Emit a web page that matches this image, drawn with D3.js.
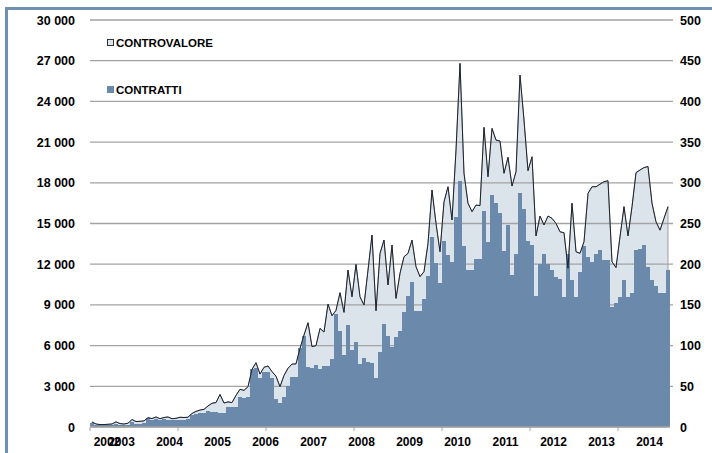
<!DOCTYPE html>
<html>
<head>
<meta charset="utf-8">
<script src="https://cdn.jsdelivr.net/npm/d3@7"></script>
<style>
  body { margin: 0; background: #fff; }
  svg { display: block; font-family: "Liberation Sans", Arial, sans-serif; font-weight: bold; }
</style>
</head>
<body>
<div id="chart"></div>
<script>
const width = 712;
const height = 453;
const margin = { top: 20, right: 42, bottom: 26, left: 90 };

// monthly series, May 2002 - May 2014
const startMonth = new Date(2002, 4, 1);

// CONTROVALORE (left axis)
const controvalore = [
  370, 220, 180, 180, 200, 220, 380, 250, 220, 280,
  550, 400, 420, 450, 690, 620, 740, 610, 700, 740,
  610, 640, 720, 700, 720, 1000, 1150, 1250, 1300, 1550,
  1750, 1800, 2400, 1770, 1850, 1800, 2330, 2780, 2700, 2970,
  4250, 4740, 3900, 4400, 4500, 4080, 3750, 2970, 3800, 4330,
  4640, 4650, 5800, 6780, 7690, 5920, 6000, 7270, 7000, 9060,
  8200, 8600, 9900, 8450, 11570, 9600, 11990, 9600, 8990, 11570,
  14150, 8570, 12800, 13780, 10470, 13410, 9480, 11330, 12550, 12800,
  13780, 11820, 11080, 11450, 13540, 17470, 15010, 12920, 16600, 17710,
  15260, 20410, 26800, 18700, 16490, 15870, 16360, 16320, 22090, 18450,
  22010, 21150, 21080, 18700, 19880, 17760, 18820, 25940, 22630, 18890,
  19920, 14080, 15550, 14890, 15550, 15380, 15010, 14390, 14320, 11700,
  16490, 12920, 12800, 13660, 17220, 17710, 17710, 17900, 18080, 18150,
  12180, 11750, 14030, 16240, 14080, 16240, 18750, 18940, 19120, 19200,
  16490, 15130, 14510, 15380, 16240
];

// CONTRATTI (right axis)
const contratti = [
  5, 3, 3, 3, 3, 3, 4, 3, 3, 3,
  6, 4, 4, 5, 11, 9, 10, 8, 10, 9,
  8, 8, 8, 9, 10, 15, 16, 17, 17, 20,
  19, 19, 17, 17, 24, 25, 24, 37, 36, 37,
  71, 73, 60, 68, 67, 60, 35, 29, 37, 50,
  61, 61, 97, 112, 74, 72, 76, 71, 75, 75,
  83, 139, 118, 88, 125, 94, 104, 77, 85, 80,
  79, 60, 92, 126, 112, 98, 110, 118, 141, 161,
  178, 142, 143, 157, 185, 234, 202, 177, 228, 211,
  203, 258, 302, 222, 193, 193, 207, 207, 265, 227,
  285, 275, 263, 216, 248, 187, 212, 287, 268, 229,
  223, 161, 200, 213, 200, 193, 184, 182, 160, 213,
  181, 160, 191, 222, 209, 203, 213, 218, 205, 205,
  148, 152, 160, 180, 160, 165, 217, 219, 224, 197,
  181, 173, 165, 165, 193
];

const leftTicks = [0, 3000, 6000, 9000, 12000, 15000, 18000, 21000, 24000, 27000, 30000];
const rightTicks = [0, 50, 100, 150, 200, 250, 300, 350, 400, 450, 500];
const yearLabels = ["2002", "2003", "2004", "2005", "2006", "2007", "2008", "2009", "2010", "2011", "2012", "2013", "2014"];
const legendNames = ["CONTROVALORE", "CONTRATTI"];

const barColor = "#6b89ab";
const areaColor = "#dbe3eb";
const gridColor = "#a3a3a3";

const data = controvalore.map((v, i) => ({
  i,
  date: d3.timeMonth.offset(startMonth, i),
  cv: v,
  ct: contratti[i]
}));

const svg = d3.select("#chart").append("svg")
  .attr("width", width)
  .attr("height", height);

svg.append("rect").attr("width", width).attr("height", height).attr("fill", "#fff");

// frame (runs past the right/bottom edge like the cropped original)
svg.append("rect")
  .attr("x", 6.5).attr("y", 8.5)
  .attr("width", width + 20).attr("height", height + 20)
  .attr("fill", "none")
  .attr("stroke", "#7090b3")
  .attr("stroke-width", 3);

const x = d3.scaleBand()
  .domain(data.map(d => d.i))
  .range([margin.left, width - margin.right])
  .padding(0);

const yL = d3.scaleLinear().domain([0, 30000]).range([height - margin.bottom, margin.top]);
const yR = d3.scaleLinear().domain([0, 500]).range([height - margin.bottom, margin.top]);

// controvalore area
const area = d3.area()
  .x(d => x(d.i) + x.bandwidth() / 2)
  .y0(yL(0))
  .y1(d => yL(d.cv));

svg.append("path")
  .datum(data)
  .attr("d", area)
  .attr("fill", areaColor)
  .attr("stroke", "#8a8a8a")
  .attr("stroke-width", 0.8);

// gridlines
svg.append("g")
  .selectAll("line")
  .data(leftTicks.slice(1))
  .join("line")
  .attr("x1", margin.left)
  .attr("x2", width - margin.right + 3)
  .attr("y1", d => yL(d))
  .attr("y2", d => yL(d))
  .attr("stroke", gridColor)
  .attr("stroke-width", 1.3);

// contratti bars
svg.append("g")
  .attr("shape-rendering", "crispEdges")
  .selectAll("rect")
  .data(data)
  .join("rect")
  .attr("x", d => x(d.i))
  .attr("width", x.bandwidth() + 0.3)
  .attr("y", d => yR(d.ct))
  .attr("height", d => yR(0) - yR(d.ct))
  .attr("fill", barColor);

// controvalore line
const line = d3.line()
  .x(d => x(d.i) + x.bandwidth() / 2)
  .y(d => yL(d.cv));

svg.append("path")
  .datum(data)
  .attr("d", line)
  .attr("fill", "none")
  .attr("stroke", "#1b2230")
  .attr("stroke-width", 1);

// x axis line + tick marks every 22 months
const xAxisY = yL(0);
svg.append("line")
  .attr("x1", margin.left).attr("x2", width - margin.right)
  .attr("y1", xAxisY).attr("y2", xAxisY)
  .attr("stroke", gridColor).attr("stroke-width", 1.3);

svg.append("g")
  .selectAll("line")
  .data(d3.range(0, data.length, 22))
  .join("line")
  .attr("x1", d => x(d)).attr("x2", d => x(d))
  .attr("y1", xAxisY).attr("y2", xAxisY + 4)
  .attr("stroke", gridColor).attr("stroke-width", 1);

// year labels: first one at the first label slot of 2002, then each January
const labelIdx = yearLabels.map(y => {
  if (y === "2002") return 4;
  return d3.timeMonth.count(startMonth, new Date(+y, 0, 1));
});

svg.append("g")
  .selectAll("text")
  .data(yearLabels)
  .join("text")
  .attr("x", (d, k) => x(labelIdx[k]) + (k === 0 ? 1 : -0.5))
  .attr("y", 446)
  .attr("text-anchor", "middle")
  .attr("font-size", 12)
  .attr("fill", "#000")
  .text(d => d);

// left y labels
const fmt = v => d3.format(",")(v).replace(/,/g, " ");
svg.append("g")
  .selectAll("text")
  .data(leftTicks)
  .join("text")
  .attr("x", 75)
  .attr("y", d => yL(d))
  .attr("dy", "0.36em")
  .attr("text-anchor", "end")
  .attr("font-size", 12.5)
  .attr("fill", "#000")
  .text(fmt);

// right y labels
svg.append("g")
  .selectAll("text")
  .data(rightTicks)
  .join("text")
  .attr("x", 680)
  .attr("y", d => yR(d))
  .attr("dy", "0.36em")
  .attr("text-anchor", "start")
  .attr("font-size", 12.5)
  .attr("fill", "#000")
  .text(d => d);

// legend
const legend = svg.append("g");
legend.append("rect")
  .attr("x", 107.5).attr("y", 39.5)
  .attr("width", 6).attr("height", 6)
  .attr("fill", areaColor)
  .attr("stroke", "#333").attr("stroke-width", 1);
legend.append("text")
  .attr("x", 116).attr("y", 42.5).attr("dy", "0.36em")
  .attr("font-size", 11.5).attr("fill", "#000")
  .text(legendNames[0]);

legend.append("rect")
  .attr("x", 107).attr("y", 86)
  .attr("width", 7).attr("height", 7)
  .attr("fill", barColor);
legend.append("text")
  .attr("x", 116).attr("y", 89.5).attr("dy", "0.36em")
  .attr("font-size", 11.5).attr("fill", "#000")
  .text(legendNames[1]);
</script>
</body>
</html>
